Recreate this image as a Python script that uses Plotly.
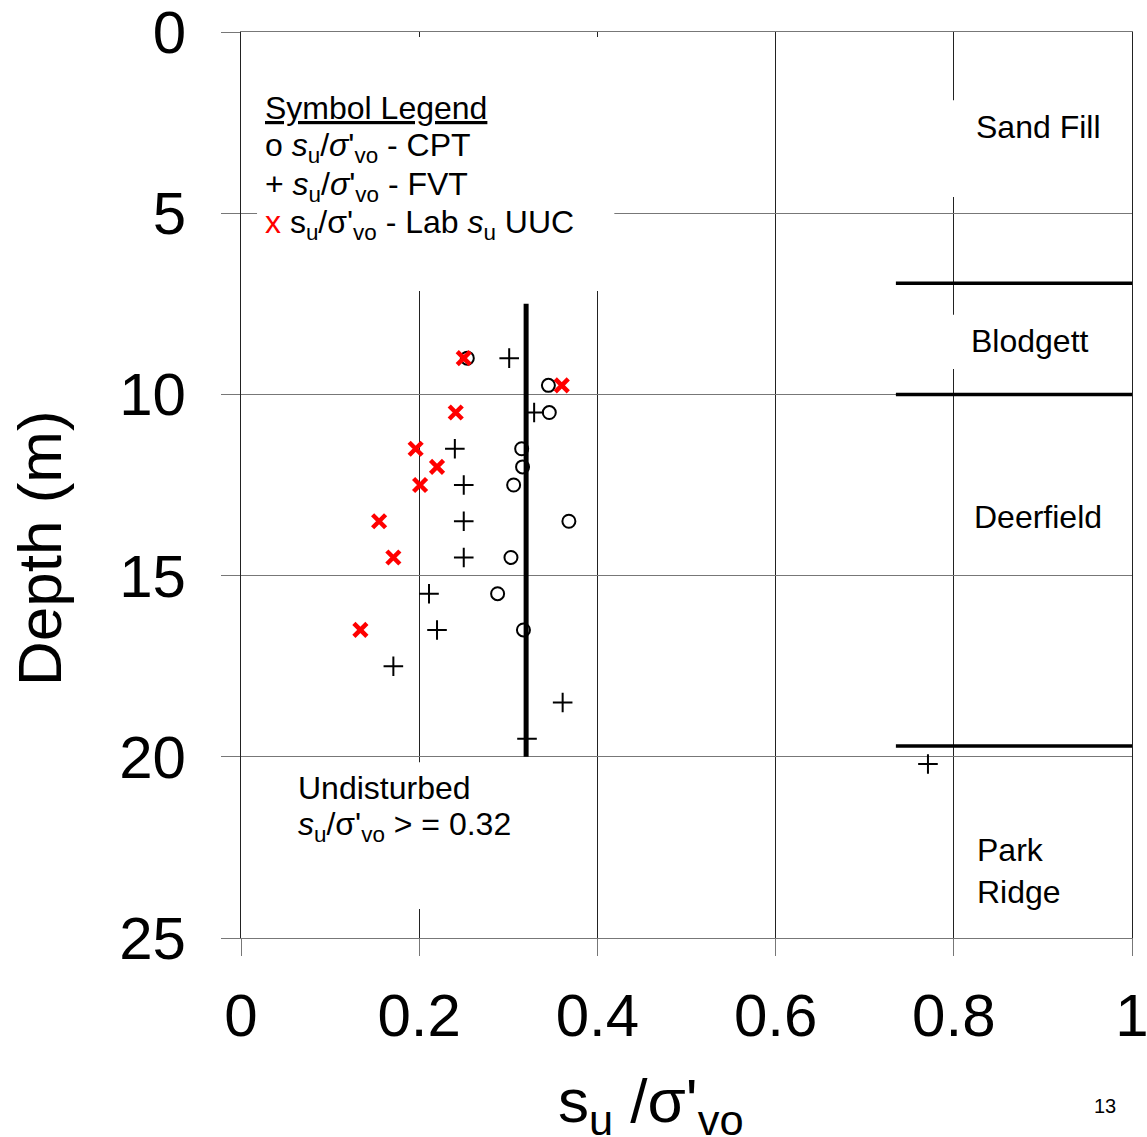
import plotly.graph_objects as go

# ---------------- data ----------------
cpt_x = [0.254, 0.345, 0.346, 0.315, 0.316, 0.306, 0.368, 0.303, 0.288, 0.317]
cpt_depth = [9.0, 9.75, 10.5, 11.5, 12.0, 12.5, 13.5, 14.5, 15.5, 16.5]

fvt_x = [0.301, 0.329, 0.240, 0.250, 0.250, 0.250, 0.211, 0.220, 0.171, 0.361, 0.321, 0.771]
fvt_depth = [9.0, 10.5, 11.5, 12.5, 13.5, 14.5, 15.5, 16.5, 17.5, 18.5, 19.5, 20.2]

lab_x = [0.250, 0.360, 0.241, 0.196, 0.220, 0.201, 0.155, 0.171, 0.134]
lab_depth = [9.0, 9.75, 10.5, 11.5, 12.0, 12.5, 13.5, 14.5, 16.5]

threshold_x = [0.32, 0.32]
threshold_depth = [7.5, 20.0]

layer_boundaries = [6.93, 10.0, 19.7]
layer_line_x = [0.735, 1.0]

layer_names = ["Sand Fill", "Blodgett", "Deerfield", "Park<br>Ridge"]

x_ticks = [0, 0.2, 0.4, 0.6, 0.8, 1]
x_tick_labels = ["0", "0.2", "0.4", "0.6", "0.8", "1"]
y_ticks = [0, 5, 10, 15, 20, 25]

FONT = "Liberation Sans, Arial, sans-serif"
GRID_V = "#222222"   # vertical lines
GRID_H = "#777777"   # horizontal lines

fig = go.Figure()

fig.add_trace(go.Scatter(
    x=threshold_x, y=threshold_depth, mode="lines",
    line=dict(color="black", width=5), showlegend=False, hoverinfo="skip"))

fig.add_trace(go.Scatter(
    x=cpt_x, y=cpt_depth, mode="markers", name="CPT",
    marker=dict(symbol="circle-open", size=13, color="black",
                line=dict(color="black", width=2)),
    showlegend=False))

fig.add_trace(go.Scatter(
    x=fvt_x, y=fvt_depth, mode="markers", name="FVT",
    marker=dict(symbol="cross-thin-open", size=14, color="black",
                line=dict(color="black", width=2)),
    showlegend=False))

fig.add_trace(go.Scatter(
    x=lab_x, y=lab_depth, mode="markers", name="Lab UUC",
    marker=dict(symbol="x-thin-open", size=13, color="red",
                line=dict(color="red", width=4.5)),
    showlegend=False))

shapes = []
# white boxes behind the text (cover gridlines)
for (x0, x1, y0, y1) in [(0.018, 0.419, 0.14, 7.15),
                         (0.79, 0.995, 1.88, 4.55),
                         (0.79, 0.995, 7.8, 9.3),
                         (0.05, 0.38, 20.15, 24.2)]:
    shapes.append(dict(type="rect", xref="x", yref="y", x0=x0, x1=x1, y0=y0, y1=y1,
                       fillcolor="white", line=dict(width=0), layer="between"))
for d in layer_boundaries:
    shapes.append(dict(type="line", xref="x", yref="y",
                       x0=layer_line_x[0], x1=layer_line_x[1], y0=d, y1=d,
                       line=dict(color="black", width=3.5), layer="above"))

ann = []
TXT = dict(family=FONT, size=32, color="black")
legend_lines = [
    ("<u>Symbol Legend</u>", 2.1),
    ("o <i>s</i><sub>u</sub>/<i>σ</i>'<sub>vo</sub> - CPT", 3.2),
    ("+ <i>s</i><sub>u</sub>/<i>σ</i>'<sub>vo</sub> - FVT", 4.25),
    ("<span style='color:red'>x</span> s<sub>u</sub>/σ'<sub>vo</sub> - Lab <i>s</i><sub>u</sub> UUC", 5.3),
]
for t, yy in legend_lines:
    ann.append(dict(x=0.0247, y=yy, xref="x", yref="y", text=t, showarrow=False,
                    xanchor="left", yanchor="middle", align="left", font=TXT))

label_pos = [(0.8956, 2.62, "center"), (0.8855, 8.53, "center"),
             (0.8945, 13.38, "center"), (0.8238, 23.15, "left")]
for name, (xx, yy, anc) in zip(layer_names, label_pos):
    ann.append(dict(x=xx, y=yy, xref="x", yref="y", text=name, showarrow=False,
                    xanchor=anc, yanchor="middle", align="left", font=TXT))

ann.append(dict(x=0.0617, y=20.86, xref="x", yref="y", text="Undisturbed",
                showarrow=False, xanchor="left", yanchor="middle", font=TXT))
ann.append(dict(x=0.0617, y=21.93, xref="x", yref="y",
                text="<i>s</i><sub>u</sub>/σ'<sub>vo</sub> &gt; = 0.32",
                showarrow=False, xanchor="left", yanchor="middle", font=TXT))

# axis titles
ann.append(dict(x=0.46, y=-0.1845, xref="paper", yref="paper",
                text="s<sub>u</sub> /σ'<sub>vo</sub>", showarrow=False,
                xanchor="center", yanchor="middle",
                font=dict(family=FONT, size=62, color="black")))
ann.append(dict(x=-0.2256, y=0.4305, xref="paper", yref="paper",
                text="Depth (m)", textangle=-90, showarrow=False,
                xanchor="center", yanchor="middle",
                font=dict(family=FONT, size=62, color="black")))
# page number
ann.append(dict(x=0.97, y=-0.185, xref="paper", yref="paper", text="13",
                showarrow=False, xanchor="center", yanchor="middle",
                font=dict(family=FONT, size=20, color="black")))

fig.update_layout(
    width=1147, height=1137,
    margin=dict(l=241, r=15, t=32, b=199, autoexpand=False),
    paper_bgcolor="white", plot_bgcolor="white",
    font=dict(family=FONT, color="black"),
    shapes=shapes, annotations=ann, showlegend=False,
)

fig.update_xaxes(
    range=[0, 1], tickvals=x_ticks, ticktext=x_tick_labels,
    showgrid=True, gridcolor=GRID_V, gridwidth=1, zeroline=False,
    showline=True, linecolor=GRID_H, linewidth=1, mirror=True,
    ticks="outside", ticklen=17, tickcolor=GRID_H, tickwidth=1,
    tickfont=dict(family=FONT, size=60, color="black"), ticklabelstandoff=8,
    ticklabeloverflow="allow", automargin=False,
)
fig.update_yaxes(
    range=[25, 0], tickvals=y_ticks,
    showgrid=True, gridcolor=GRID_H, gridwidth=1, zeroline=False,
    showline=True, linecolor=GRID_V, linewidth=1, mirror=True,
    ticks="outside", ticklen=19, tickcolor=GRID_H, tickwidth=1,
    tickfont=dict(family=FONT, size=60, color="black"), ticklabelstandoff=23,
    ticklabeloverflow="allow", automargin=False,
)

fig.write_html("out.html")
